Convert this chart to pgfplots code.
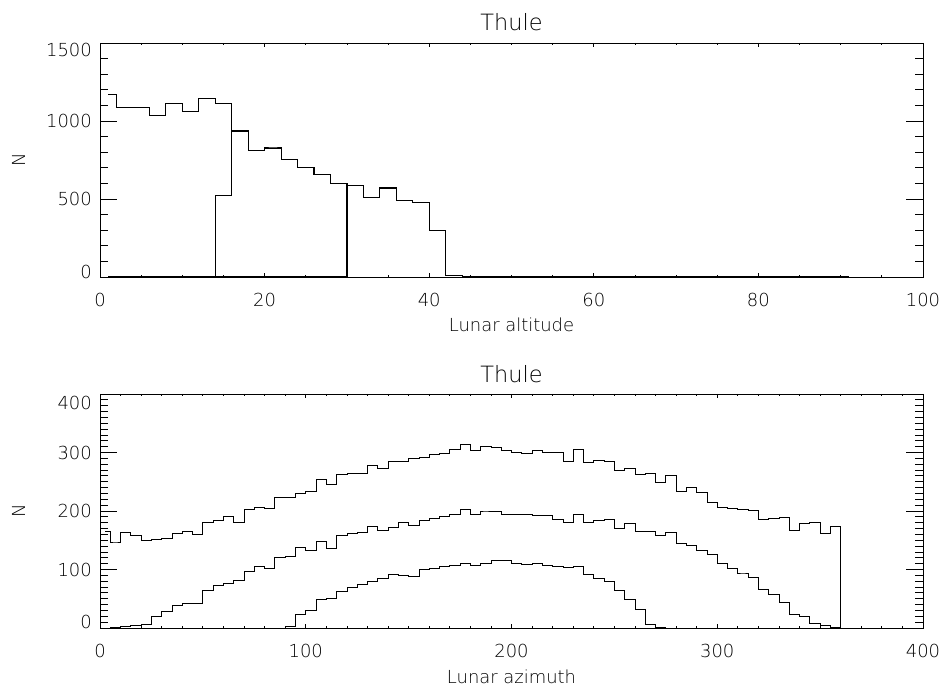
\documentclass[border=0pt]{standalone}
\usepackage{fontspec}
\setmainfont{DejaVu Sans ExtraLight}
\usepackage{pgfplots}
\pgfplotsset{compat=1.18}
\usepackage{pgfplotstable}

\pgfplotstableread{
x A B C
1 1168 0 0
3 1086 0 0
5 1088 0 0
7 1037 0 0
9 1110 0 0
11 1061 0 0
13 1146 0 0
15 1114 525 0
17 936 936 0
19 814 814 0
21 827 827 0
23 754 754 0
25 705 705 0
27 658 658 0
29 602 602 0
31 589 589 589
33 510 510 510
35 570 570 570
37 491 491 491
39 480 480 480
41 296 296 296
43 9 9 9
45 0 0 0
47 0 0 0
49 0 0 0
51 0 0 0
53 0 0 0
55 0 0 0
57 0 0 0
59 0 0 0
61 0 0 0
63 0 0 0
65 0 0 0
67 0 0 0
69 0 0 0
71 0 0 0
73 0 0 0
75 0 0 0
77 0 0 0
79 0 0 0
81 0 0 0
83 0 0 0
85 0 0 0
87 0 0 0
89 0 0 0
91 0 0 0
}\altdata

\pgfplotstableread{
x O M I
2.5 165 0 0
7.5 147 1 0
12.5 164 2 0
17.5 158 5 0
22.5 149 6 0
27.5 152 19 0
32.5 153 29 0
37.5 161 38 0
42.5 165 42 0
47.5 160 42 0
52.5 180 64 0
57.5 184 72 0
62.5 190 77 0
67.5 181 82 0
72.5 202 97 0
77.5 206 105 0
82.5 204 102 0
87.5 223 120 0
92.5 223 123 2
97.5 230 138 23
102.5 234 132 30
107.5 254 148 49
112.5 246 136 51
117.5 262 159 62
122.5 265 161 69
127.5 265 164 74
132.5 278 174 79
137.5 273 166 84
142.5 285 172 92
147.5 284 180 90
152.5 290 176 89
157.5 291 184 101
162.5 297 188 102
167.5 299 191 105
172.5 306 194 107
177.5 314 203 111
182.5 304 195 107
187.5 311 200 111
192.5 309 199 115
197.5 303 195 116
202.5 301 194 110
207.5 299 194 108
212.5 303 193 110
217.5 301 192 107
222.5 300 186 105
227.5 285 180 103
232.5 305 195 105
237.5 283 180 92
242.5 286 184 85
247.5 284 186 80
252.5 270 171 65
257.5 273 179 49
262.5 262 165 31
267.5 264 165 6
272.5 249 159 1
277.5 261 163 0
282.5 234 145 0
287.5 241 142 0
292.5 232 133 0
297.5 215 126 0
302.5 207 110 0
307.5 204 102 0
312.5 203 94 0
317.5 201 86 0
322.5 186 66 0
327.5 187 57 0
332.5 189 43 0
337.5 167 23 0
342.5 178 19 0
347.5 180 8 0
352.5 161 5 0
357.5 174 1 0
362.5 0 0 0
}\azdata

\newcommand\lbl{\fontsize{18}{20}\selectfont}
\newcommand\ttl{\fontsize{22.5}{26}\selectfont}

\pgfplotsset{
  idl/.style={
    scale only axis, width=823bp, height=234bp, anchor=south west,
    axis line style={line width=0.8bp, black},
    every tick/.style={black, line width=0.8bp},
    tick align=inside,
    tick label style={font=\lbl, black},
    /pgf/number format/assume math mode=true,
    label style={font=\lbl, black},
    title style={font=\ttl, black},
  },
  hist/.style={black, line width=0.8bp, const plot mark mid, mark=none},
}

\begin{document}
\begin{tikzpicture}
\path[use as bounding box] (0,0) rectangle (943bp,690bp);

% ---------- top panel ----------
\begin{axis}[idl, at={(100bp,413bp)},
  xmin=0, xmax=100, ymin=0, ymax=1500,
  xtick=\empty,
  ytick={0,500,1000,1500},
  yticklabels={{\raisebox{5bp}[\height][\depth]{0}},500,1000,{\raisebox{-7bp}[\height][\depth]{1500}}},
  minor y tick num=4,
  major tick length=16.7bp, minor tick length=8.3bp,
  yticklabel style={anchor=east, inner sep=0pt, xshift=-8bp},
  title={Thule}, title style={at={(0.5,1)}, anchor=base, yshift=6.5bp},
  ylabel={N}, ylabel style={at={(axis description cs:-0.0911,0.5)}, anchor=base},
  xlabel={Lunar altitude}, xlabel style={at={(axis description cs:0.5,0)}, anchor=base, yshift=-54.5bp},
]
\addplot[hist] table[x=x, y=A] {\altdata};
\addplot[hist, line width=1bp] table[x=x, y=B] {\altdata};
\addplot[hist, line width=1.2bp] table[x=x, y=C] {\altdata};
\end{axis}
\begin{axis}[idl, at={(100bp,413bp)},
  xmin=0, xmax=100, ymin=0, ymax=1500,
  ytick=\empty,
  xtick={0,20,40,60,80,100},
  minor x tick num=3,
  major tick length=4.3bp, minor tick length=2bp,
  xticklabel style={anchor=base, yshift=-30bp},
]
\end{axis}

% ---------- bottom panel ----------
\begin{axis}[idl, at={(100bp,62bp)},
  xmin=0, xmax=400, ymin=0, ymax=400,
  xtick=\empty,
  ytick={0,100,200,300,400},
  yticklabels={{\raisebox{6bp}[\height][\depth]{0}},100,200,300,{\raisebox{-8.5bp}[\height][\depth]{400}}},
  minor y tick num=9,
  major tick length=16.7bp, minor tick length=8.3bp,
  yticklabel style={anchor=east, inner sep=0pt, xshift=-8bp},
  title={Thule}, title style={at={(0.5,1)}, anchor=base, yshift=6bp},
  ylabel={N}, ylabel style={at={(axis description cs:-0.0911,0.5)}, anchor=base},
  xlabel={Lunar azimuth}, xlabel style={at={(axis description cs:0.5,0)}, anchor=base, yshift=-55bp},
]
\addplot[hist] table[x=x, y=O] {\azdata};
\addplot[hist] table[x=x, y=M] {\azdata};
\addplot[hist] table[x=x, y=I] {\azdata};
\end{axis}
\begin{axis}[idl, at={(100bp,62bp)},
  xmin=0, xmax=400, ymin=0, ymax=400,
  ytick=\empty,
  xtick={0,100,200,300,400},
  minor x tick num=9,
  major tick length=4.3bp, minor tick length=2bp,
  xticklabel style={anchor=base, yshift=-30bp},
]
\end{axis}
\end{tikzpicture}
\end{document}
